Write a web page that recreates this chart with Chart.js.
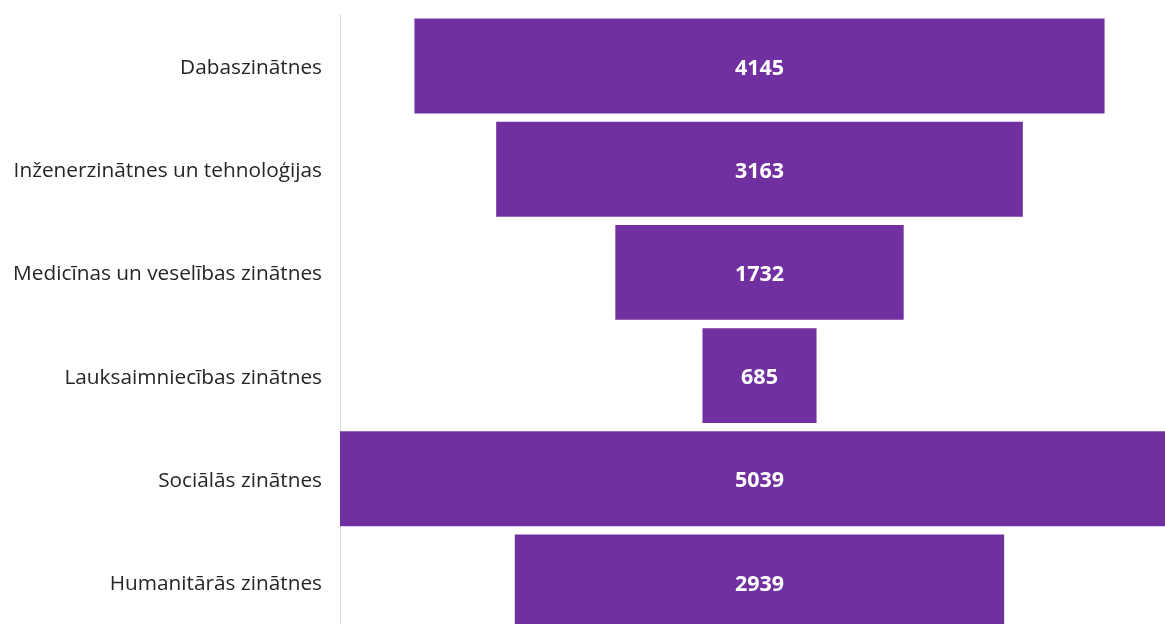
<!DOCTYPE html>
<html><head><meta charset="utf-8">
<script src="https://cdn.jsdelivr.net/npm/chart.js@4"></script>
<style>html,body{margin:0;padding:0;background:#fff;overflow:hidden;width:1165px;height:624px;}canvas{display:block;position:absolute;left:0;top:-16px;}</style>
</head><body>
<canvas id="c" width="1179" height="680" style="width:1179px;height:680px"></canvas>
<script>
const categories = ["Dabaszinātnes","Inženerzinātnes un tehnoloģijas","Medicīnas un veselības zinātnes","Lauksaimniecības zinātnes","Sociālās zinātnes","Humanitārās zinātnes"];
const values = [4145, 3163, 1732, 685, 5039, 2939];
const maxV = Math.max(...values);
const barData = values.map(v => [-v/2, v/2]);

const valueLabels = {
  id: 'valueLabels',
  afterDatasetsDraw(chart) {
    const ctx = chart.ctx;
    const meta = chart.getDatasetMeta(0);
    ctx.save();
    ctx.fillStyle = '#ffffff';
    ctx.font = 'bold 21.5px "Open Sans", sans-serif';
    ctx.textAlign = 'center';
    ctx.textBaseline = 'middle';
    meta.data.forEach((bar, i) => {
      const x = (bar.x + bar.base) / 2;
      ctx.fillText(String(values[i]), x, bar.y + 2.5);
    });
    ctx.restore();
  }
};

new Chart(document.getElementById('c'), {
  type: 'bar',
  data: { labels: categories, datasets: [{ data: barData, backgroundColor: '#7030A0', borderWidth: 0, barPercentage: 0.92, categoryPercentage: 1.0 }] },
  options: {
    indexAxis: 'y',
    responsive: false,
    maintainAspectRatio: false,
    animation: false,
    layout: { padding: { top: 14, bottom: 6, left: 0, right: 0 } },
    plugins: { legend: { display: false }, tooltip: { enabled: false } },
    scales: {
      x: { display: false, min: -maxV/2, max: maxV/2 },
      y: {
        grid: { display: false, drawTicks: false },
        border: { display: true, color: '#d9d9d9', width: 1 },
        ticks: { color: '#262626', padding: 18, labelOffset: 2, font: { family: '"Open Sans", sans-serif', size: 20.8 } },
        afterFit(scale) { scale.width = 340; }
      }
    }
  },
  plugins: [valueLabels]
});
</script>
</body></html>
